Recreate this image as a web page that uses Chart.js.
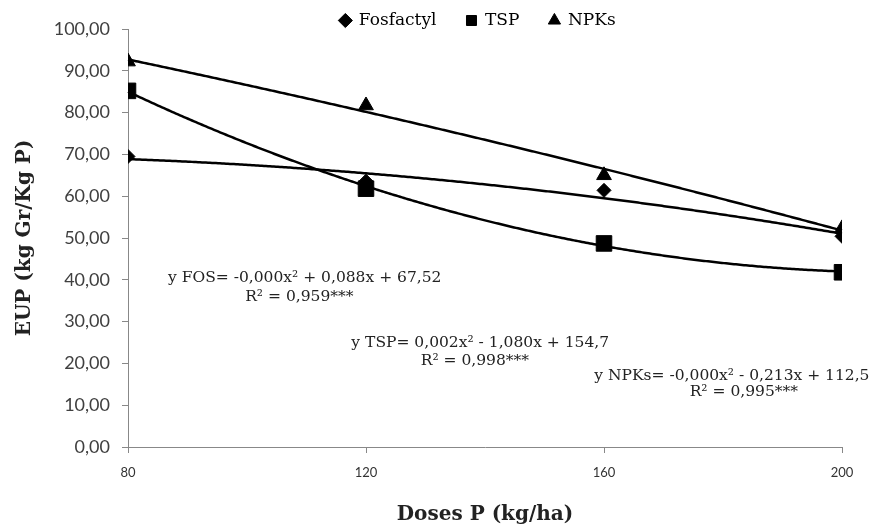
<!DOCTYPE html>
<html>
<head>
<meta charset="utf-8">
<script src="https://cdn.jsdelivr.net/npm/chart.js@4/dist/chart.umd.min.js"></script>
<style>
  html, body { margin: 0; padding: 0; background: #fff; }
  #wrap { width: 875px; height: 524px; }
</style>
</head>
<body>
<div id="wrap"><canvas id="eupChart"></canvas></div>
<script>
// P doses (kg/ha) and EUP values
const doses = [80, 120, 160, 200];
const fosfactyl = [69.5, 63.6, 61.4, 50.4];
const tsp = [85.2, 61.8, 48.7, 41.8];
const npks = [92.2, 81.7, 65.0, 52.3];
const yTicks = [0, 10, 20, 30, 40, 50, 60, 70, 80, 90, 100];

// trendline equations printed on the chart
const equationLines = [
  "y FOS= -0,000x\u00b2 + 0,088x + 67,52", "R\u00b2 = 0,959***",
  "y TSP= 0,002x\u00b2 - 1,080x + 154,7", "R\u00b2 = 0,998***",
  "y NPKs= -0,000x\u00b2 - 0,213x + 112,5", "R\u00b2 = 0,995***"
];
// where each line sits, in axis units (centre of text)
const equationSpots = [
  [109.7, 40.4], [108.8, 35.8],
  [139.2, 25.0], [138.3, 20.7],
  [181.5, 17.1], [183.5, 13.1]
];

function points(values) {
  return doses.map((d, i) => ({ x: d, y: values[i] }));
}

// least squares y = a x^2 + b x + c, like the spreadsheet trendline
function quadFit(xs, ys) {
  const s = [0, 0, 0, 0, 0], t = [0, 0, 0];
  xs.forEach((x, i) => {
    for (let k = 0; k < 5; k++) s[k] += Math.pow(x, k);
    for (let k = 0; k < 3; k++) t[k] += ys[i] * Math.pow(x, k);
  });
  const m = [
    [s[4], s[3], s[2], t[2]],
    [s[3], s[2], s[1], t[1]],
    [s[2], s[1], s[0], t[0]]
  ];
  for (let i = 0; i < 3; i++) {
    for (let j = i + 1; j < 3; j++) {
      const f = m[j][i] / m[i][i];
      for (let k = i; k < 4; k++) m[j][k] -= f * m[i][k];
    }
  }
  const r = [0, 0, 0];
  for (let i = 2; i >= 0; i--) {
    let v = m[i][3];
    for (let k = i + 1; k < 3; k++) v -= m[i][k] * r[k];
    r[i] = v / m[i][i];
  }
  return r;
}

const trendlines = {
  id: "trendlines",
  beforeDatasetsDraw(chart) {
    const { ctx, scales: { x, y } } = chart;
    ctx.save();
    ctx.strokeStyle = "#000";
    ctx.lineWidth = 2.5;
    ctx.lineJoin = "round";
    chart.data.datasets.forEach((ds) => {
      const xs = ds.data.map((p) => p.x);
      const ys = ds.data.map((p) => p.y);
      const [a, b, c] = quadFit(xs, ys);
      const start = x.getPixelForValue(xs[0]);
      const end = x.getPixelForValue(xs[xs.length - 1]);
      ctx.beginPath();
      for (let px = start; px <= end + 0.5; px += 2) {
        const v = x.getValueForPixel(Math.min(px, end));
        const py = y.getPixelForValue(a * v * v + b * v + c);
        if (px === start) ctx.moveTo(px, py); else ctx.lineTo(Math.min(px, end), py);
      }
      ctx.stroke();
    });
    ctx.restore();
  }
};

const equations = {
  id: "equations",
  afterDraw(chart) {
    const { ctx, scales: { x, y } } = chart;
    ctx.save();
    ctx.font = "15.5px 'DejaVu Serif'";
    ctx.fillStyle = "#222";
    ctx.textAlign = "center";
    ctx.textBaseline = "middle";
    equationLines.forEach((line, i) => {
      const [dx, dy] = equationSpots[i];
      ctx.fillText(line, x.getPixelForValue(dx), y.getPixelForValue(dy));
    });
    ctx.restore();
  }
};

// legend box is taller than the gap above the plot, the top padding pulls it up;
// it is then centred over the plot area instead of the whole canvas
const legendBox = {
  id: "legendBox",
  beforeInit(chart) {
    const fit = chart.legend.fit;
    chart.legend.fit = function () {
      fit.bind(chart.legend)();
      this.height = 47;
    };
  },
  afterLayout(chart) {
    chart.legend.left = chart.chartArea.left - 14;
  }
};

const marker = { pointBackgroundColor: "#000", pointBorderColor: "#000", backgroundColor: "#000", borderColor: "#000", showLine: false };

new Chart(document.getElementById("eupChart"), {
  type: "scatter",
  data: {
    datasets: [
      Object.assign({ label: "Fosfactyl", data: points(fosfactyl), pointStyle: "rectRot", pointRadius: 7 }, marker),
      Object.assign({ label: "TSP", data: points(tsp), pointStyle: "rect", pointRadius: 11 }, marker),
      Object.assign({ label: "NPKs", data: points(npks), pointStyle: "triangle", pointRadius: 8.5 }, marker)
    ]
  },
  options: {
    responsive: true,
    maintainAspectRatio: false,
    animation: false,
    layout: { padding: { left: 0, right: 33, top: -18, bottom: 0 } },
    plugins: {
      tooltip: { enabled: false },
      legend: {
        position: "top",
        labels: {
          usePointStyle: true,
          boxWidth: 10,
          boxHeight: 10,
          padding: 30,
          color: "#000",
          font: { family: "'DejaVu Serif'", size: 17 }
        }
      }
    },
    scales: {
      x: {
        type: "linear",
        min: doses[0],
        max: doses[doses.length - 1],
        afterBuildTicks: (scale) => { scale.ticks = doses.map((v) => ({ value: v })); },
        ticks: { color: "#333", font: { family: "Lato", size: 13 }, padding: 12 },
        grid: { drawOnChartArea: false, tickLength: 6, color: "#888" },
        border: { color: "#888" },
        title: {
          display: true,
          text: "Doses P (kg/ha)",
          color: "#222",
          font: { family: "'DejaVu Serif'", size: 20, weight: "bold" },
          padding: { top: 0, bottom: -3 }
        },
        afterFit: (scale) => { scale.height = 77; }
      },
      y: {
        min: 0,
        max: 100,
        afterBuildTicks: (scale) => { scale.ticks = yTicks.map((v) => ({ value: v })); },
        ticks: {
          color: "#404040",
          font: { family: "Lato", size: 18 },
          padding: 12,
          callback: (v) => v.toFixed(2).replace(".", ",")
        },
        grid: { drawOnChartArea: false, tickLength: 6, color: "#888" },
        border: { color: "#888" },
        title: {
          display: true,
          text: "EUP (kg Gr/Kg P)",
          color: "#222",
          font: { family: "'DejaVu Serif'", size: 20, weight: "bold" },
          padding: { top: 13, bottom: 0 }
        },
        afterFit: (scale) => { scale.width = 128; }
      }
    }
  },
  plugins: [legendBox, trendlines, equations]
});
</script>
</body>
</html>
